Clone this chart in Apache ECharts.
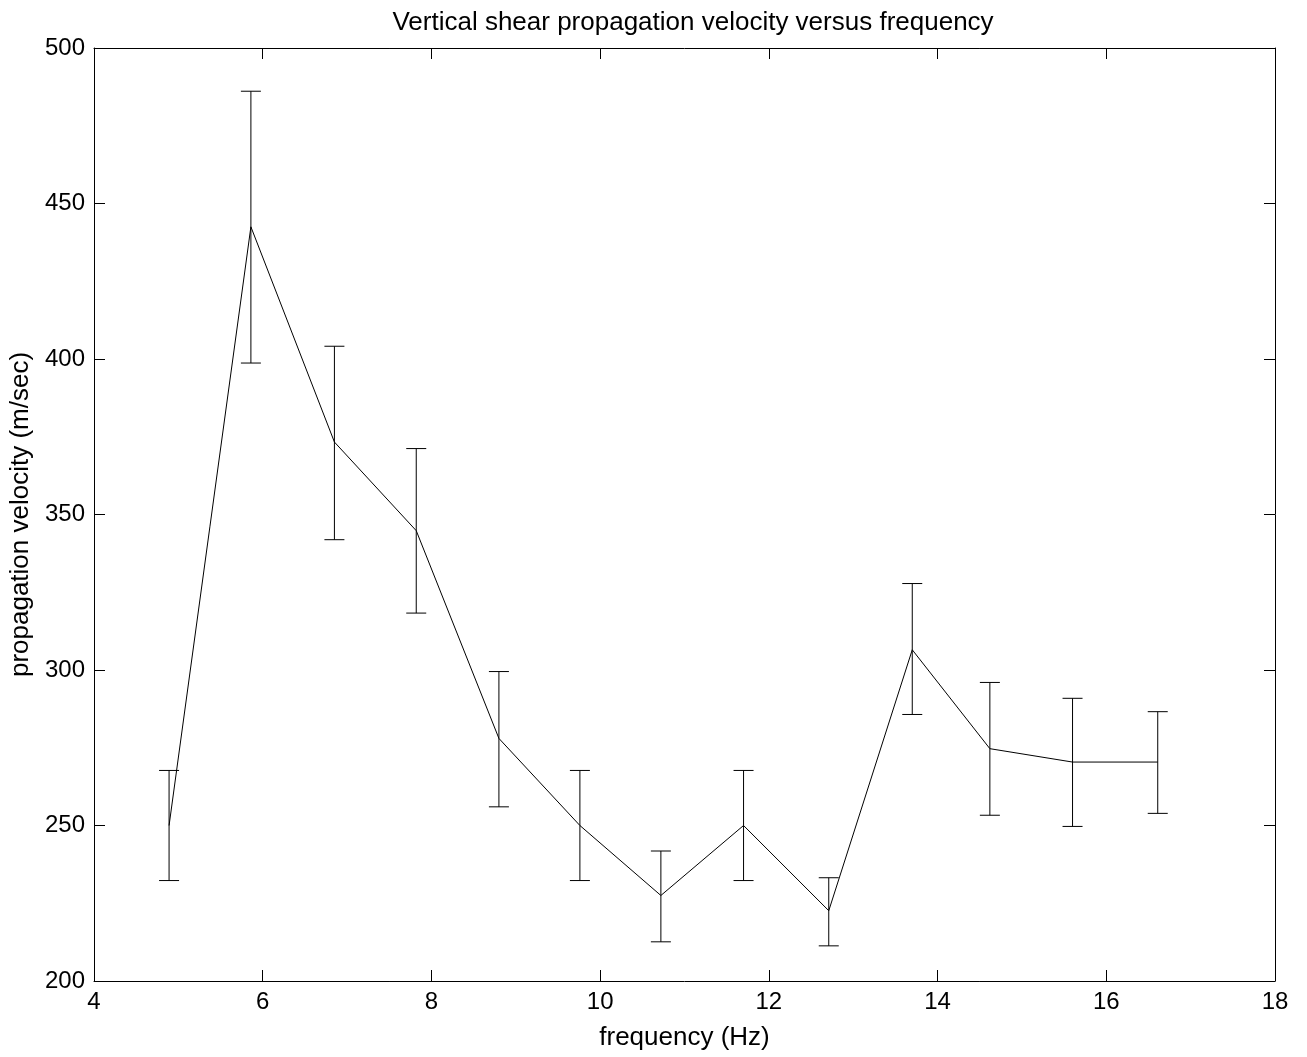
<!DOCTYPE html>
<html>
<head>
<meta charset="utf-8">
<script src="https://cdn.jsdelivr.net/npm/echarts@6/dist/echarts.min.js"></script>
<style>
html,body{margin:0;padding:0;background:#fff;}
#chart{width:1307px;height:1057px;}
</style>
</head>
<body>
<div id="chart"></div>
<script>
// Data
var frequency = [4.89, 5.86, 6.85, 7.82, 8.80, 9.76, 10.72, 11.70, 12.71, 13.70, 14.62, 15.60, 16.61];
var velocity  = [250, 442.5, 373.3, 344.8, 278, 250, 227.5, 250, 222.6, 306.5, 274.7, 270.4, 270.4];
var lowerErr  = [232.3, 398.7, 341.9, 318.3, 256, 232.3, 212.6, 232.3, 211.3, 285.7, 253.3, 249.7, 253.9];
var upperErr  = [267.7, 486.1, 404.1, 371.2, 299.5, 267.7, 241.8, 267.7, 233.2, 327.8, 296, 290.9, 286.6];
var xTicks = [4, 6, 8, 10, 12, 14, 16, 18];
var yTicks = [200, 250, 300, 350, 400, 450, 500];

var FONT = 'Liberation Sans, Arial, Helvetica, sans-serif';
var lineData = frequency.map(function (f, i) { return [f, velocity[i]]; });
var errData = frequency.map(function (f, i) { return [f, lowerErr[i], upperErr[i]]; });

var chart = echarts.init(document.getElementById('chart'), null, {renderer: 'canvas'});

function axisCommon(pos, showLabel, isX) {
  return {
    type: 'value',
    position: pos,
    min: isX ? xTicks[0] : yTicks[0],
    max: isX ? xTicks[xTicks.length - 1] : yTicks[yTicks.length - 1],
    interval: isX ? 2 : 50,
    splitLine: {show: false},
    axisLine: {show: true, onZero: false, lineStyle: {color: '#000', width: 1}},
    axisTick: {show: true, inside: true, length: 11, lineStyle: {color: '#000', width: 1}},
    axisLabel: {show: showLabel, color: '#000', fontFamily: FONT, fontSize: 24, margin: 9}
  };
}

var xBottom = axisCommon('bottom', true, true);
xBottom.name = 'frequency (Hz)';
xBottom.nameLocation = 'middle';
xBottom.nameGap = 44;
xBottom.nameTextStyle = {color: '#000', fontFamily: FONT, fontSize: 26, verticalAlign: 'top'};
var xTop = axisCommon('top', false, true);

var yLeft = axisCommon('left', true, false);
yLeft.name = 'propagation velocity (m/sec)';
yLeft.nameLocation = 'middle';
yLeft.nameGap = 60;
yLeft.nameTextStyle = {color: '#000', fontFamily: FONT, fontSize: 26};
var yRight = axisCommon('right', false, false);

var option = {
  animation: false,
  backgroundColor: '#fff',
  title: {
    text: 'Vertical shear propagation velocity versus frequency',
    left: 688,
    textAlign: 'center',
    top: 5,
    textStyle: {color: '#000', fontFamily: FONT, fontSize: 26, fontWeight: 'normal'}
  },
  grid: {left: 94, right: 32, top: 48, bottom: 76, containLabel: false},
  xAxis: [xBottom, xTop],
  yAxis: [yLeft, yRight],
  series: [
    {
      type: 'line',
      xAxisIndex: 0,
      yAxisIndex: 0,
      data: lineData,
      showSymbol: false,
      symbol: 'none',
      lineStyle: {color: '#000', width: 1},
      z: 3
    },
    {
      type: 'custom',
      xAxisIndex: 0,
      yAxisIndex: 0,
      data: errData,
      encode: {x: 0, y: [1, 2]},
      renderItem: function (params, api) {
        var x = api.value(0);
        var lo = api.coord([x, api.value(1)]);
        var hi = api.coord([x, api.value(2)]);
        var hw = 10;
        var style = {stroke: '#000', lineWidth: 1, fill: null};
        return {
          type: 'group',
          children: [
            {type: 'line', shape: {x1: lo[0], y1: lo[1], x2: hi[0], y2: hi[1]}, style: style},
            {type: 'line', shape: {x1: lo[0] - hw, y1: lo[1], x2: lo[0] + hw, y2: lo[1]}, style: style},
            {type: 'line', shape: {x1: hi[0] - hw, y1: hi[1], x2: hi[0] + hw, y2: hi[1]}, style: style}
          ]
        };
      },
      z: 2
    }
  ]
};
chart.setOption(option);
</script>
</body>
</html>
